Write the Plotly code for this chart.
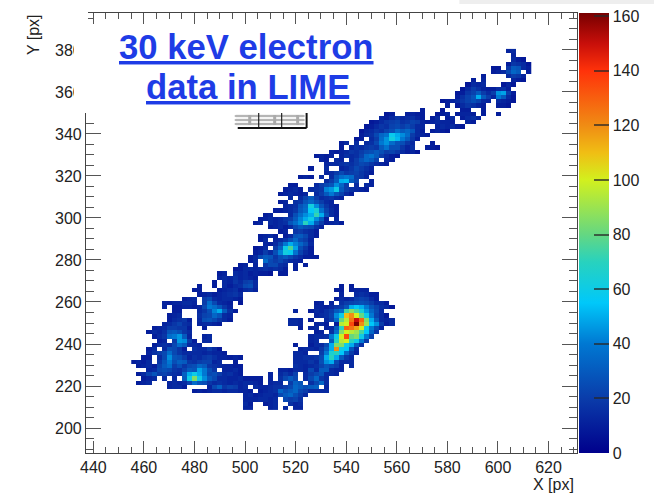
import plotly.graph_objects as go

# Histogram cells: each row is {X bin centre: counts}
r379 = {604:12,606:14}
r377 = {606:12}
r375 = {606:14,608:10,610:8}
r373 = {604:10,606:18,608:16,610:14,612:8}
r371 = {598:8,600:8,604:18,606:30,608:28,610:14,612:10}
r369 = {598:10,600:12,602:14,604:24,606:34,608:30,612:10}
r367 = {594:10,604:14,606:20,608:18,610:12}
r365 = {590:10,594:12,606:12,608:10,610:8}
r363 = {588:8,590:14,592:12,594:14,602:8,604:12,606:8}
r361 = {586:8,588:14,590:20,592:16,594:12,596:10,598:10,600:14,602:16,604:10}
r359 = {584:8,586:10,588:18,590:22,592:30,594:20,596:14,598:20,600:45,602:48,604:20,606:10}
r357 = {584:10,586:16,588:22,590:28,592:50,594:30,596:20,598:12,600:40,602:30,604:14,606:8}
r355 = {578:8,580:10,582:12,584:14,586:18,588:22,590:26,592:22,594:14,596:12,600:14,602:12,604:10,606:8}
r353 = {580:10,584:8,586:14,588:18,590:16,592:12,594:10,600:10,602:10,604:8}
r351 = {570:10,578:8,586:10,588:10,594:10}
r349 = {556:8,558:10,564:10,566:12,568:10,570:10,576:8,578:10,580:12,584:10,586:12,588:12,590:10,594:10,600:10}
r347 = {554:12,556:10,558:14,560:18,562:12,564:14,566:16,568:12,570:10,574:10,576:14,580:10,582:14,586:10,588:14,590:16,592:12}
r345 = {550:8,552:10,554:14,556:18,558:20,560:22,562:16,564:18,566:22,568:20,570:12,572:10,574:12,576:14,578:12,580:12,582:10,588:12,590:10}
r343 = {548:8,550:10,552:14,554:18,556:16,558:22,560:24,562:20,564:24,566:20,568:14,570:12,576:12,578:14,580:12,582:14,584:10,586:8}
r341 = {546:8,548:12,550:14,552:18,554:16,556:22,558:26,560:36,562:30,564:34,566:28,568:14,570:10,574:10,576:12,578:10,580:8}
r339 = {546:10,548:14,550:16,552:24,554:34,556:38,558:58,560:50,562:44,564:36,566:20,568:14,570:12,572:10}
r337 = {544:8,546:10,550:14,552:20,554:36,556:45,558:62,560:52,562:40,564:30,566:18,568:10}
r335 = {538:10,540:14,544:14,548:14,550:16,552:24,554:40,556:45,558:36,560:28,562:26,564:18,566:14,574:10}
r333 = {538:10,542:12,544:16,546:14,548:18,550:20,552:18,554:30,556:38,558:26,560:26,562:18,564:12,566:16,572:10,574:10,576:8}
r331 = {534:12,536:10,538:12,540:14,542:18,544:16,546:20,548:24,550:26,552:30,554:26,556:20,558:22,560:18,562:14,564:10,566:12,568:8}
r329 = {528:10,530:12,532:10,534:12,538:12,540:16,542:14,544:16,546:22,548:34,550:38,552:30,554:20,556:14,558:10,560:8}
r327 = {530:12,532:10,536:14,538:12,542:14,544:20,546:28,548:34,550:30,552:22,556:12,558:10}
r325 = {532:12,534:14,536:14,538:16,540:18,542:16,544:20,546:24,548:22,550:18,552:14,554:12,556:10}
r323 = {526:10,532:14,538:12,540:14,542:18,544:24,546:20,548:16,550:12}
r321 = {532:12,534:14,536:20,538:24,540:18,542:20,544:22,546:18,548:14,550:10}
r319 = {522:10,524:12,526:10,530:14,534:14,536:28,538:36,540:40,542:36,544:20,546:18,548:12}
r317 = {532:14,534:20,536:30,538:50,540:52,542:30,544:22,550:12}
r315 = {518:10,520:10,528:14,530:20,532:24,534:28,536:44,538:34,540:20,544:14,548:14,550:12}
r313 = {516:10,518:12,520:14,522:10,526:14,528:16,530:18,532:42,534:46,536:60,538:30,540:20,542:16,544:14,546:12,548:10}
r311 = {514:10,516:12,518:14,520:12,522:10,524:12,528:14,530:20,532:30,534:40,536:28,538:22,540:14,542:10}
r309 = {518:14,522:14,524:22,526:30,528:20,530:14,532:16,534:18,536:14,538:12}
r307 = {514:10,516:12,520:16,522:18,524:28,526:34,528:26,530:20,532:14,534:12}
r305 = {516:12,518:14,520:16,522:28,524:34,526:62,528:44,530:28,532:18,534:12,536:10}
r303 = {512:10,514:10,516:12,518:14,520:18,522:30,524:36,526:56,528:64,530:38,532:22,534:14,536:10}
r301 = {508:10,510:12,518:14,520:26,522:36,524:44,526:50,528:72,530:50,532:26,534:14,536:10}
r299 = {506:10,508:12,510:14,512:12,514:14,516:18,518:20,520:30,522:42,524:50,526:60,528:44,530:30,532:10,536:12}
r297 = {504:10,506:12,510:14,512:12,514:14,516:16,518:28,520:36,522:44,524:70,526:50,528:30,530:20,532:10,534:12,536:14,538:10}
r295 = {510:10,512:12,514:14,516:10,518:14,520:24,522:30,524:26,526:24,528:16,530:12}
r293 = {514:10,516:12,520:18,522:20,524:16,526:14,528:10}
r291 = {506:10,508:12,510:14,512:10,516:10,518:14,520:28,522:30,524:24,526:14,528:10}
r289 = {506:10,508:14,512:12,514:14,516:18,518:26,520:34,522:24,524:20,526:12}
r287 = {508:12,510:10,512:14,514:24,516:40,518:50,520:42,522:34,524:26,526:14}
r285 = {504:8,506:10,508:14,512:20,514:32,516:60,518:76,520:48,522:26,524:18,526:10}
r283 = {504:10,506:12,508:20,510:14,512:26,514:42,516:62,518:58,520:38,522:22,524:14,526:10}
r281 = {502:10,504:14,506:24,508:30,510:28,512:18,514:26,516:30,518:24,520:18,522:14,524:10,526:10,528:10}
r279 = {502:10,504:14,508:36,510:24,512:20,514:24,516:18,518:14,520:12,522:10}
r277 = {498:10,500:12,504:12,508:18,510:24,512:24,514:16,516:14,520:10,524:10}
r275 = {496:8,498:10,500:14,502:14,504:12,506:14,508:16,510:14,512:16,514:14,516:10,520:10}
r273 = {490:10,492:12,496:14,498:12,500:14,502:10,504:12,506:10,508:10,510:8,514:10,516:10}
r271 = {490:12,492:14,494:12,496:16,498:12,500:14,502:12,504:10}
r269 = {488:10,492:14,494:12,496:18,498:14,500:20,502:22,504:14}
r267 = {482:10,488:10,492:14,494:10,496:14,498:16,500:24,502:26,504:14,538:10,542:10}
r265 = {480:10,482:10,490:10,492:12,494:14,496:16,498:10,500:14,502:16,504:12,536:10,538:10,542:10,544:12,546:12,548:12}
r263 = {482:10,484:12,486:14,488:10,490:12,492:14,494:16,496:18,498:14,538:12,544:14,546:16,548:14,550:10,552:10}
r261 = {476:10,478:12,480:14,484:20,486:24,488:14,490:12,492:14,494:14,496:12,498:10,536:10,538:14,540:12,542:14,544:20,546:22,548:20,550:14,552:10}
r259 = {468:12,470:10,472:12,474:12,476:14,478:14,480:12,484:20,486:36,488:24,490:14,492:12,494:10,498:8,528:10,530:12,534:12,538:16,540:20,542:22,544:24,546:26,548:24,550:20,552:14,554:14,556:10}
r257 = {468:12,472:10,474:10,476:12,478:12,480:10,482:12,484:24,486:40,488:36,490:28,492:18,494:12,528:12,530:12,532:10,534:14,536:18,538:20,540:28,542:50,544:56,546:50,548:40,550:28,552:22,554:16,556:14,558:8}
r255 = {472:10,474:10,482:14,484:18,486:26,488:42,490:50,492:30,494:16,496:10,520:12,526:10,528:14,530:12,532:16,534:20,536:30,538:36,540:74,542:86,544:76,546:64,548:46,550:34,552:24,554:14}
r253 = {470:10,472:12,474:14,482:16,484:22,486:24,488:34,490:28,492:14,494:12,528:12,530:14,532:16,534:22,536:44,538:60,540:110,542:120,544:100,546:80,548:60,550:40,552:22,554:14,556:8}
r251 = {470:10,472:14,474:16,476:18,478:10,482:14,484:26,486:28,488:24,490:18,492:14,494:10,518:14,520:14,522:12,526:10,532:14,534:20,536:36,538:80,540:95,542:125,544:150,546:130,548:85,550:50,552:30,554:14,556:12,558:14}
r249 = {468:12,470:14,472:18,474:22,476:16,478:14,482:12,484:14,486:14,488:12,490:10,518:14,520:14,522:12,528:12,530:14,532:10,536:10,538:95,540:100,542:135,544:160,546:120,548:90,550:55,552:45,554:20,556:10,558:14}
r247 = {464:10,466:12,468:14,470:20,472:20,474:18,476:18,478:10,484:10,522:10,526:12,528:14,532:12,534:14,536:30,538:70,540:130,542:125,544:115,546:100,548:60,550:40,552:24,554:12}
r245 = {462:10,464:14,466:12,468:16,470:28,472:30,474:26,476:18,478:14,528:10,530:12,534:16,536:36,538:85,540:100,542:95,544:90,546:75,548:55,550:34,552:18}
r243 = {464:10,466:14,468:18,470:36,472:40,474:46,476:30,478:12,484:12,486:14,526:12,528:14,530:14,532:16,534:40,536:60,538:100,540:135,542:80,544:85,546:60,548:40,550:22}
r241 = {466:10,468:12,472:20,474:46,476:44,478:20,480:10,484:14,486:14,526:12,528:14,534:30,536:70,538:95,540:100,542:70,544:60,546:40,548:20}
r239 = {464:10,466:14,468:16,470:14,472:24,474:36,476:30,478:14,480:14,482:12,520:10,526:10,528:14,530:14,532:24,534:50,536:85,538:85,540:60,542:50,544:30,546:16}
r237 = {462:10,464:14,468:14,470:26,472:24,474:18,476:10,480:16,482:14,484:14,486:20,488:14,490:8,522:12,524:14,526:14,528:12,530:18,532:30,534:50,536:120,538:60,540:55,542:28,544:14}
r235 = {462:12,464:16,466:20,468:24,470:36,472:24,474:18,476:14,478:14,480:14,482:14,484:12,486:14,488:12,490:12,492:10,520:14,522:14,524:12,530:20,532:40,534:65,536:70,538:55,540:35,542:20,544:12}
r233 = {460:10,462:10,466:14,468:24,470:44,472:28,474:26,476:20,478:12,480:16,482:14,484:18,486:20,488:16,490:12,492:12,494:10,496:12,498:10,520:14,522:14,524:16,526:16,528:18,530:24,532:50,534:70,536:50,538:30,540:18,542:14}
r231 = {456:10,458:12,460:10,462:14,466:18,468:28,470:40,472:26,474:32,476:30,478:18,480:16,482:20,484:22,486:22,488:12,490:14,496:10,520:14,522:14,524:14,526:18,528:14,530:26,532:45,534:50,536:24,538:14,540:14,542:14}
r229 = {458:10,460:12,462:14,464:10,466:22,468:30,470:36,472:20,474:26,476:18,478:24,480:26,482:34,484:30,486:18,488:16,490:14,492:12,494:12,496:10,498:10,520:16,522:14,524:12,526:14,528:16,530:22,532:28,534:24,536:20,538:12,542:14}
r227 = {462:12,464:14,466:24,468:26,470:24,472:18,474:16,476:22,478:30,480:28,482:48,484:40,486:26,488:18,492:12,494:12,496:14,498:10,514:12,516:12,518:10,520:14,522:14,524:12,526:24,528:14,530:30,532:30,534:14,536:12,538:12}
r225 = {458:10,460:14,462:22,464:28,466:20,468:22,470:18,472:16,474:14,476:32,478:50,480:60,482:50,484:40,486:24,488:26,490:20,492:14,494:16,496:12,498:10,510:12,514:14,516:18,518:14,520:22,524:14,526:20,528:24,530:28,532:14,534:14,536:12}
r223 = {460:10,462:12,464:14,468:14,472:14,476:30,478:60,480:85,482:60,484:44,486:30,488:24,490:14,492:14,494:12,496:12,498:14,500:10,502:10,504:10,506:10,510:12,514:16,516:24,518:30,520:24,524:14,526:24,528:34,530:18,532:14}
r221 = {458:10,460:12,462:14,470:12,472:14,474:12,476:14,478:22,480:36,482:28,484:26,486:18,488:14,490:16,492:14,494:12,496:14,498:12,500:14,502:14,504:12,506:10,510:12,512:14,514:14,518:20,520:32,522:28,526:16,528:24,530:34,532:14}
r219 = {470:12,472:14,474:14,476:10,486:12,488:24,490:32,492:18,494:22,496:20,498:12,500:14,504:14,506:12,508:12,510:14,512:16,514:16,516:20,518:24,520:34,522:30,524:26,526:30,528:32,532:12}
r217 = {480:10,482:12,484:10,486:12,488:14,490:14,492:12,494:14,496:14,498:12,500:12,502:10,506:10,508:12,510:14,512:16,514:34,516:26,518:30,520:34,522:24,524:20,526:14,528:14,530:14,532:14}
r215 = {500:12,502:14,504:10,506:12,508:14,510:14,512:12,514:24,516:30,518:34,520:26,522:20,524:14}
r213 = {500:12,502:12,504:12,506:14,508:14,510:12,512:14,516:24,518:20,520:22,522:16}
r211 = {500:14,502:10,508:10,510:12,512:14,518:16,520:12,522:14}
r209 = {500:12,502:12,510:12,512:14,516:14,520:12,522:12}

row_values = [r209,r211,r213,r215,r217,r219,r221,r223,r225,r227,r229,r231,r233,r235,r237,r239,r241,r243,r245,r247,
              r249,r251,r253,r255,r257,r259,r261,r263,r265,r267,r269,r271,r273,r275,r277,r279,r281,r283,r285,r287,
              r289,r291,r293,r295,r297,r299,r301,r303,r305,r307,r309,r311,r313,r315,r317,r319,r321,r323,r325,r327,
              r329,r331,r333,r335,r337,r339,r341,r343,r345,r347,r349,r351,r353,r355,r357,r359,r361,r363,r365,r367,
              r369,r371,r373,r375,r377,r379]
y_centers = [209.5 + 2 * i for i in range(len(row_values))]
x_centers = list(range(456, 614, 2))
z = [[row.get(x) for x in x_centers] for row in row_values]

x_ticks = [440, 460, 480, 500, 520, 540, 560, 580, 600, 620]
y_ticks = [200, 220, 240, 260, 280, 300, 320, 340, 360, 380]
cbar_ticks = [0, 20, 40, 60, 80, 100, 120, 140, 160]

W, H = 654, 498
L, R, T, B = 86, 578, 13, 453
def px(x): return (x - L) / (W - L)
def py(y): return (B - y) / (B - T)

colorscale = [
    [0/161.2, "#00008c"], [20/161.2, "#0a3caa"], [40/161.2, "#0078d2"], [55/161.2, "#00c8fa"],
    [70/161.2, "#28d2be"], [80/161.2, "#64d782"], [100/161.2, "#d2f01e"], [110/161.2, "#f0be14"],
    [120/161.2, "#f08c14"], [140/161.2, "#ff320a"], [150/161.2, "#c80f0a"], [1, "#780000"],
]

fig = go.Figure(go.Heatmap(
    x=x_centers, y=y_centers, z=z, zmin=0, zmax=161.2, colorscale=colorscale, hoverongaps=False,
    colorbar=dict(
        thickness=30, thicknessmode="pixels", len=1, lenmode="fraction", x=px(579), xanchor="left",
        y=0, yanchor="bottom", xpad=0, ypad=0, outlinewidth=0,
        tickmode="array", tickvals=cbar_ticks, ticks="inside", ticklen=15, tickwidth=1.5,
        tickcolor="rgba(40,40,40,0.7)", tickfont=dict(family="Liberation Sans", size=16, color="#222"),
    ),
))

axis_common = dict(
    showgrid=False, zeroline=False, showline=True, linecolor="#444", linewidth=1.2, mirror="allticks",
    ticks="inside", tickwidth=1.2, tickcolor="#555",
    tickfont=dict(family="Liberation Sans", size=16, color="#222"),
)
fig.update_xaxes(range=[437.1, 631.3], domain=[0, (R - L) / (W - L)], tickmode="array", tickvals=x_ticks, ticklen=12,
                 minor=dict(dtick=5, tick0=440, ticks="inside", ticklen=6, tickcolor="#555", tickwidth=1.1),
                 **axis_common)
fig.update_yaxes(range=[188.1, 397.6], tickmode="array", tickvals=y_ticks, ticklen=15,
                 minor=dict(dtick=5, tick0=200, ticks="inside", ticklen=8, tickcolor="#555", tickwidth=1.1),
                 **axis_common)

def rect(x0, y0, x1, y1, fill, line=None, w=0):
    return dict(type="rect", xref="paper", yref="paper", x0=px(x0), x1=px(x1), y0=py(y0), y1=py(y1),
                fillcolor=fill, line=dict(color=line or "rgba(0,0,0,0)", width=w), layer="above")
def seg(x0, y0, x1, y1, c, w):
    return dict(type="line", xref="paper", yref="paper", x0=px(x0), x1=px(x1), y0=py(y0), y1=py(y1),
                line=dict(color=c, width=w), layer="above")

shapes = [
    rect(460, -2, 660, 4, "#eeeeee"),
    rect(74, 9, 88, 113, "white"),
    rect(74, 24, 310, 113, "white"),
    rect(236, 114, 304, 126, "#f4f4f4"),
]
for y_ in (116, 120, 124):
    shapes.append(seg(235, y_, 305, y_, "#777", 1))
for x_ in (250, 275, 298):
    shapes.append(seg(x_, 115, x_, 125, "#aaa", 3))
for x_ in (259, 282):
    shapes.append(seg(x_, 113, x_, 128, "#222", 1.2))
shapes += [seg(238, 128, 307, 128, "#111", 2), seg(307, 113, 307, 128, "#111", 2)]

def note(text, x, y, size, color="#222", angle=0, anchor="center"):
    return dict(text=text, xref="paper", yref="paper", x=px(x), y=py(y), xanchor=anchor, yanchor="middle",
                showarrow=False, textangle=angle, font=dict(family="Liberation Sans", size=size, color=color))

annotations = [
    note("<b><u>30 keV electron</u></b>", 247, 47, 34.7, "#1e3ce6"),
    note("<b><u>data in LIME</u></b>", 248, 87, 34.7, "#1e3ce6"),
    note("X [px]", 577, 484, 16, anchor="right"),
    note("Y [px]", 33, 35, 16, angle=-90),
]

fig.update_layout(
    width=W, height=H, margin=dict(l=L, r=0, t=T, b=H - B), autosize=False,
    paper_bgcolor="white", plot_bgcolor="white", shapes=shapes, annotations=annotations,
)
fig.write_html("out.html", config={"displayModeBar": False},
               post_script="document.body.style.margin='0';document.documentElement.style.overflow='hidden';")
